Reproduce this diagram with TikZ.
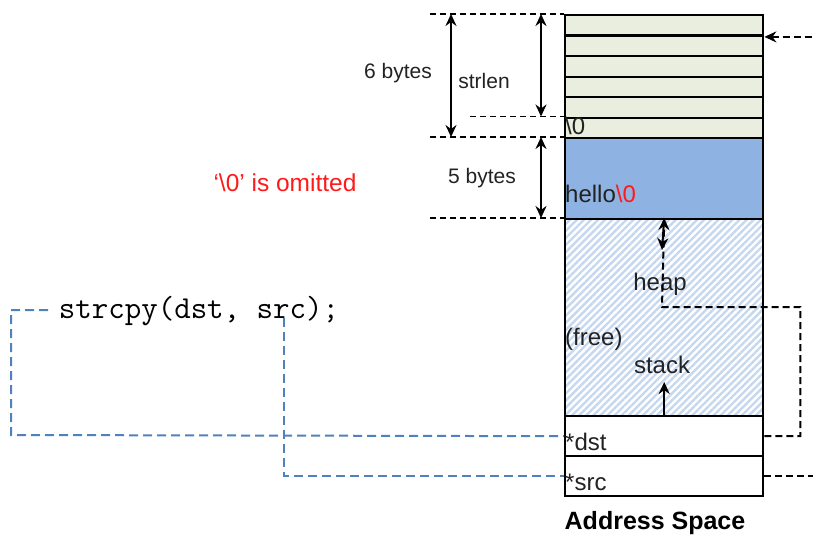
\documentclass[tikz,border=0pt]{standalone}
\usepackage{fontspec}
\setmainfont{Liberation Sans}
\usetikzlibrary{arrows.meta,patterns.meta,calc}
\definecolor{cellbg}{HTML}{EAEEDE}
\definecolor{strbg}{HTML}{8EB3E2}
\definecolor{hatchblue}{HTML}{C6D8F0}
\definecolor{ptrblue}{HTML}{4F81BD}
\definecolor{ink}{HTML}{222222}
\definecolor{warn}{HTML}{FF1A1A}
\begin{document}
\begin{tikzpicture}[x=1pt,y=-1pt,
  cell/.style={draw=black,line width=2.4pt,anchor=north west,inner sep=0pt,minimum width=198pt},
  tipA/.tip={Stealth[length=12pt,width=11pt,inset=4pt]},
  dim/.style={line width=2pt,tipA-tipA},
  guide/.style={line width=1.7pt,dash pattern=on 6pt off 4pt},
  ptr/.style={line width=2pt,dash pattern=on 7pt off 4pt},
  bptr/.style={ptrblue,line width=2pt,dash pattern=on 9pt off 5pt},
  lab/.style={font=\fontsize{21}{25}\selectfont,text=ink,inner sep=0pt},
  mem/.style={font=\fontsize{24}{28}\selectfont,text=ink,inner sep=0pt,anchor=base west},
]
\useasboundingbox (0,0) rectangle (813,535);

% string cells (six bytes)
\node[cell,fill=cellbg,minimum height=20.5pt] (c1) at (564,14) {};
\node[cell,fill=cellbg,minimum height=20.5pt] (c2) at (564,34.5) {};
\node[cell,fill=cellbg,minimum height=20.5pt] (c3) at (564,55) {};
\node[cell,fill=cellbg,minimum height=20.5pt] (c4) at (564,75.5) {};
\node[cell,fill=cellbg,minimum height=20.5pt] (c5) at (564,96) {};
\node[cell,fill=cellbg,minimum height=20.5pt] (c6) at (564,116.5) {};
% destination buffer
\node[cell,fill=strbg,minimum height=81pt] (blk) at (564,137) {};
% free region between heap and stack
\node[cell,pattern={Lines[angle=45,distance=5pt,line width=2.4pt]},pattern color=hatchblue,minimum height=197pt] (free) at (564,218) {};
% pointer slots
\node[cell,fill=white,minimum height=40pt] (dst) at (564,415) {};
\node[cell,fill=white,minimum height=40pt] (src) at (564,455) {};

% texts inside the address space
\node[mem] (zero) at (565,134) {\textbackslash 0};
\node[mem] (hello) at (565,202) {hello\textcolor{warn}{\textbackslash 0}};
\node[mem,anchor=base] (heap) at (660,290) {heap};
\node[mem] (freel) at (565,345) {(free)};
\node[mem,anchor=base] (stack) at (662,373) {stack};
\node[mem] (dstl) at (565,450) {*dst};
\node[mem] (srcl) at (565,490) {*src};
\node[font=\bfseries\fontsize{25}{29}\selectfont,inner sep=0pt] (title) at (655,523) {Address Space};

% dashed guide lines
\coordinate (g1) at (430,14);
\coordinate (g2) at (470,116.5);
\coordinate (g3) at (430,137);
\coordinate (g4) at (430,218);
\draw[guide] (g1) -- (c1.north west);
\draw[guide] (g2) -- (c6.north west);
\draw[guide] (g3) -- (blk.north west);
\draw[guide] (g4) -- (free.north west);

% size arrows
\coordinate (a1) at (451,14);
\coordinate (a2) at (451,137);
\coordinate (b1) at (541,14);
\coordinate (b2) at (541,116.5);
\coordinate (b3) at (541,137);
\coordinate (b4) at (541,218);
\draw[dim] (a1) -- (a2);
\draw[dim] (b1) -- (b2);
\draw[dim] (b3) -- (b4);
\node[lab] (six) at (398,73) {6 bytes};
\node[lab] (len) at (484,81) {strlen};
\node[lab] (five) at (482,178) {5 bytes};
\node[lab,text=warn,font=\fontsize{24.5}{28}\selectfont] (omit) at (285,183) {‘\textbackslash 0’ is omitted};

% growth arrows
\coordinate (hturn) at (662,307);
\coordinate (hgrow) at (662,250);
\draw[line width=2pt,-tipA] (free.north) -- (hgrow);
\draw[line width=2pt,-tipA] (dst.north) -- ++(0,-33);

% pointers leaving the address space
\draw[ptr,tipA-] (c1.south east) -- ++(52,0);
\draw[ptr,-tipA] (dst.east) -- ++(36,0) |- (hturn) -- (free.north);
\draw[ptr] (src.east) -- ++(52,0);

% the call and its arguments
\node[font=\ttfamily\fontsize{32}{36}\selectfont,text=black,inner sep=0pt] (call) at (199,311) {strcpy(dst, src);};
\coordinate (d0) at (48,310);
\coordinate (d1) at (11,435);
\coordinate (s0) at (284,318);
\draw[bptr] (d0) -| (d1) -- (dst.west);
\draw[bptr] (s0) |- (src.west);
\end{tikzpicture}
\end{document}
